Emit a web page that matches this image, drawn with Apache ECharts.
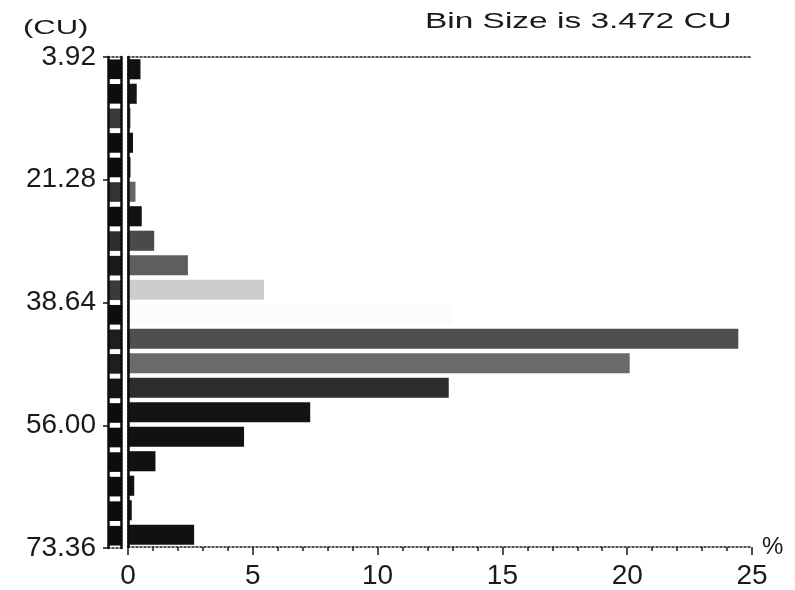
<!DOCTYPE html>
<html><head><meta charset="utf-8">
<script src="https://cdn.jsdelivr.net/npm/echarts@6/dist/echarts.min.js"></script>
<style>html,body{margin:0;padding:0;background:#fff}#c{width:795px;height:590px}</style>
</head><body><div id="c"></div>
<script>
// Bin lower edges (CU), bin size 3.472
const binStarts = ['3.92','7.39','10.86','14.34','17.81','21.28','24.75','28.22','31.70','35.17',
                   '38.64','42.11','45.58','49.06','52.53','56.00','59.47','62.94','66.42','69.89'];
// Percent of samples per bin
const binPercent = [0.5, 0.35, 0.1, 0.2, 0.1, 0.3, 0.55, 1.05, 2.4, 5.45,
                    13.0, 24.45, 20.1, 12.85, 7.3, 4.65, 1.1, 0.25, 0.15, 2.65];
const barColors = ['#111','#151515','#555','#111','#151515','#666','#111','#4a4a4a','#5e5e5e','#cdcdcd',
                   '#fbfbfb','#4f4f4f','#6a6a6a','#2c2c2c','#141414','#111','#111','#111','#111','#111'];
// Colour key strip at left of the axis
const keyFill = [1,1,1,1,1,1,1,1,1,1,1,1,1,1,1,1,1,1,1,1];
const keyColors = ['#0d0d0d','#0d0d0d','#3a3a3a','#0d0d0d','#0d0d0d','#333','#0d0d0d','#2e2e2e','#1a1a1a','#3a3a3a',
                   '#0d0d0d','#1e1e1e','#1e1e1e','#151515','#0d0d0d','#0d0d0d','#0d0d0d','#0d0d0d','#0d0d0d','#0d0d0d'];
const yTickLabels = ['3.92','21.28','38.64','56.00','73.36'];
const titleText = 'Bin Size is 3.472 CU';
const yUnit = '(CU)';
const xUnit = '%';

const chart = echarts.init(document.getElementById('c'));
const FONT = 'Liberation Sans';
const dotted = {color:'#1a1a1a', width:1.5, type:[2,2]};
const off = {show:false};
const lbl = {fontFamily:FONT, fontSize:28, color:'#1a1a1a'};
chart.setOption({
  animation:false,
  backgroundColor:'#fff',
  grid:[
    {left:108, width:13, top:57, bottom:42},
    {left:128, right:43, top:57, bottom:42}
  ],
  graphic:[
    {type:'text', x:23, y:28, scaleX:1.55, style:{text:yUnit, x:0, y:0, font:'20px "Liberation Sans"', fill:'#1a1a1a', textVerticalAlign:'middle'}},
    {type:'text', x:425, y:22, scaleX:1.52, style:{text:titleText, x:0, y:0, font:'22px "Liberation Sans"', fill:'#1a1a1a', textVerticalAlign:'middle'}}
  ],
  xAxis:[
    {gridIndex:0, type:'value', min:0, max:1, position:'bottom', axisLine:{show:true, lineStyle:dotted}, axisTick:off, axisLabel:off, splitLine:off},
    {gridIndex:0, type:'value', min:0, max:1, position:'top', axisLine:{show:true, lineStyle:dotted}, axisTick:off, axisLabel:off, splitLine:off},
    {gridIndex:1, type:'value', min:0, max:25, interval:5, position:'bottom',
     name:xUnit, nameLocation:'end', nameGap:10, nameTextStyle:Object.assign({}, lbl, {fontSize:24}),
     axisLine:{show:true, lineStyle:dotted},
     axisTick:{show:true, length:8, lineStyle:{color:'#1a1a1a', width:1.5}},
     minorTick:{show:true, splitNumber:5, length:4, lineStyle:{color:'#1a1a1a', width:1.5}},
     axisLabel:Object.assign({margin:15}, lbl),
     splitLine:off},
    {gridIndex:1, type:'value', min:0, max:25, position:'top', axisLine:{show:true, lineStyle:dotted}, axisTick:off, axisLabel:off, splitLine:off}
  ],
  yAxis:[
    {gridIndex:0, type:'category', data:binStarts, inverse:true, axisLine:off, axisTick:off, axisLabel:off, splitLine:off},
    {gridIndex:0, type:'value', min:0, max:20, interval:5, inverse:true, position:'left', z:5,
     axisLine:{show:true, lineStyle:{color:'#0d0d0d', width:2.5}},
     axisTick:{show:true, length:5, lineStyle:{color:'#111', width:1.5}},
     axisLabel:Object.assign({margin:12, formatter:v=>yTickLabels[Math.round(v/5)]}, lbl),
     splitLine:off},
    {gridIndex:0, type:'value', min:0, max:1, position:'right', z:5,
     axisLine:{show:true, lineStyle:{color:'#0d0d0d', width:2.5}}, axisTick:off, axisLabel:off, splitLine:off},
    {gridIndex:1, type:'category', data:binStarts, inverse:true, position:'left', z:5,
     axisLine:{show:true, lineStyle:{color:'#0d0d0d', width:2.5}}, axisTick:off, axisLabel:off, splitLine:off},
    {gridIndex:1, type:'value', min:0, max:1, position:'right',
     axisLine:{show:true, lineStyle:dotted}, axisTick:off, axisLabel:off, splitLine:off}
  ],
  series:[
    {type:'bar', xAxisIndex:0, yAxisIndex:0, barCategoryGap:'20%', silent:true,
     data:keyFill.map((v,i)=>({value:v, itemStyle:{color:keyColors[i]}}))},
    {type:'bar', xAxisIndex:2, yAxisIndex:3, barCategoryGap:'18%', silent:true,
     data:binPercent.map((v,i)=>({value:v, itemStyle:{color:barColors[i]}}))}
  ]
});
</script></body></html>
